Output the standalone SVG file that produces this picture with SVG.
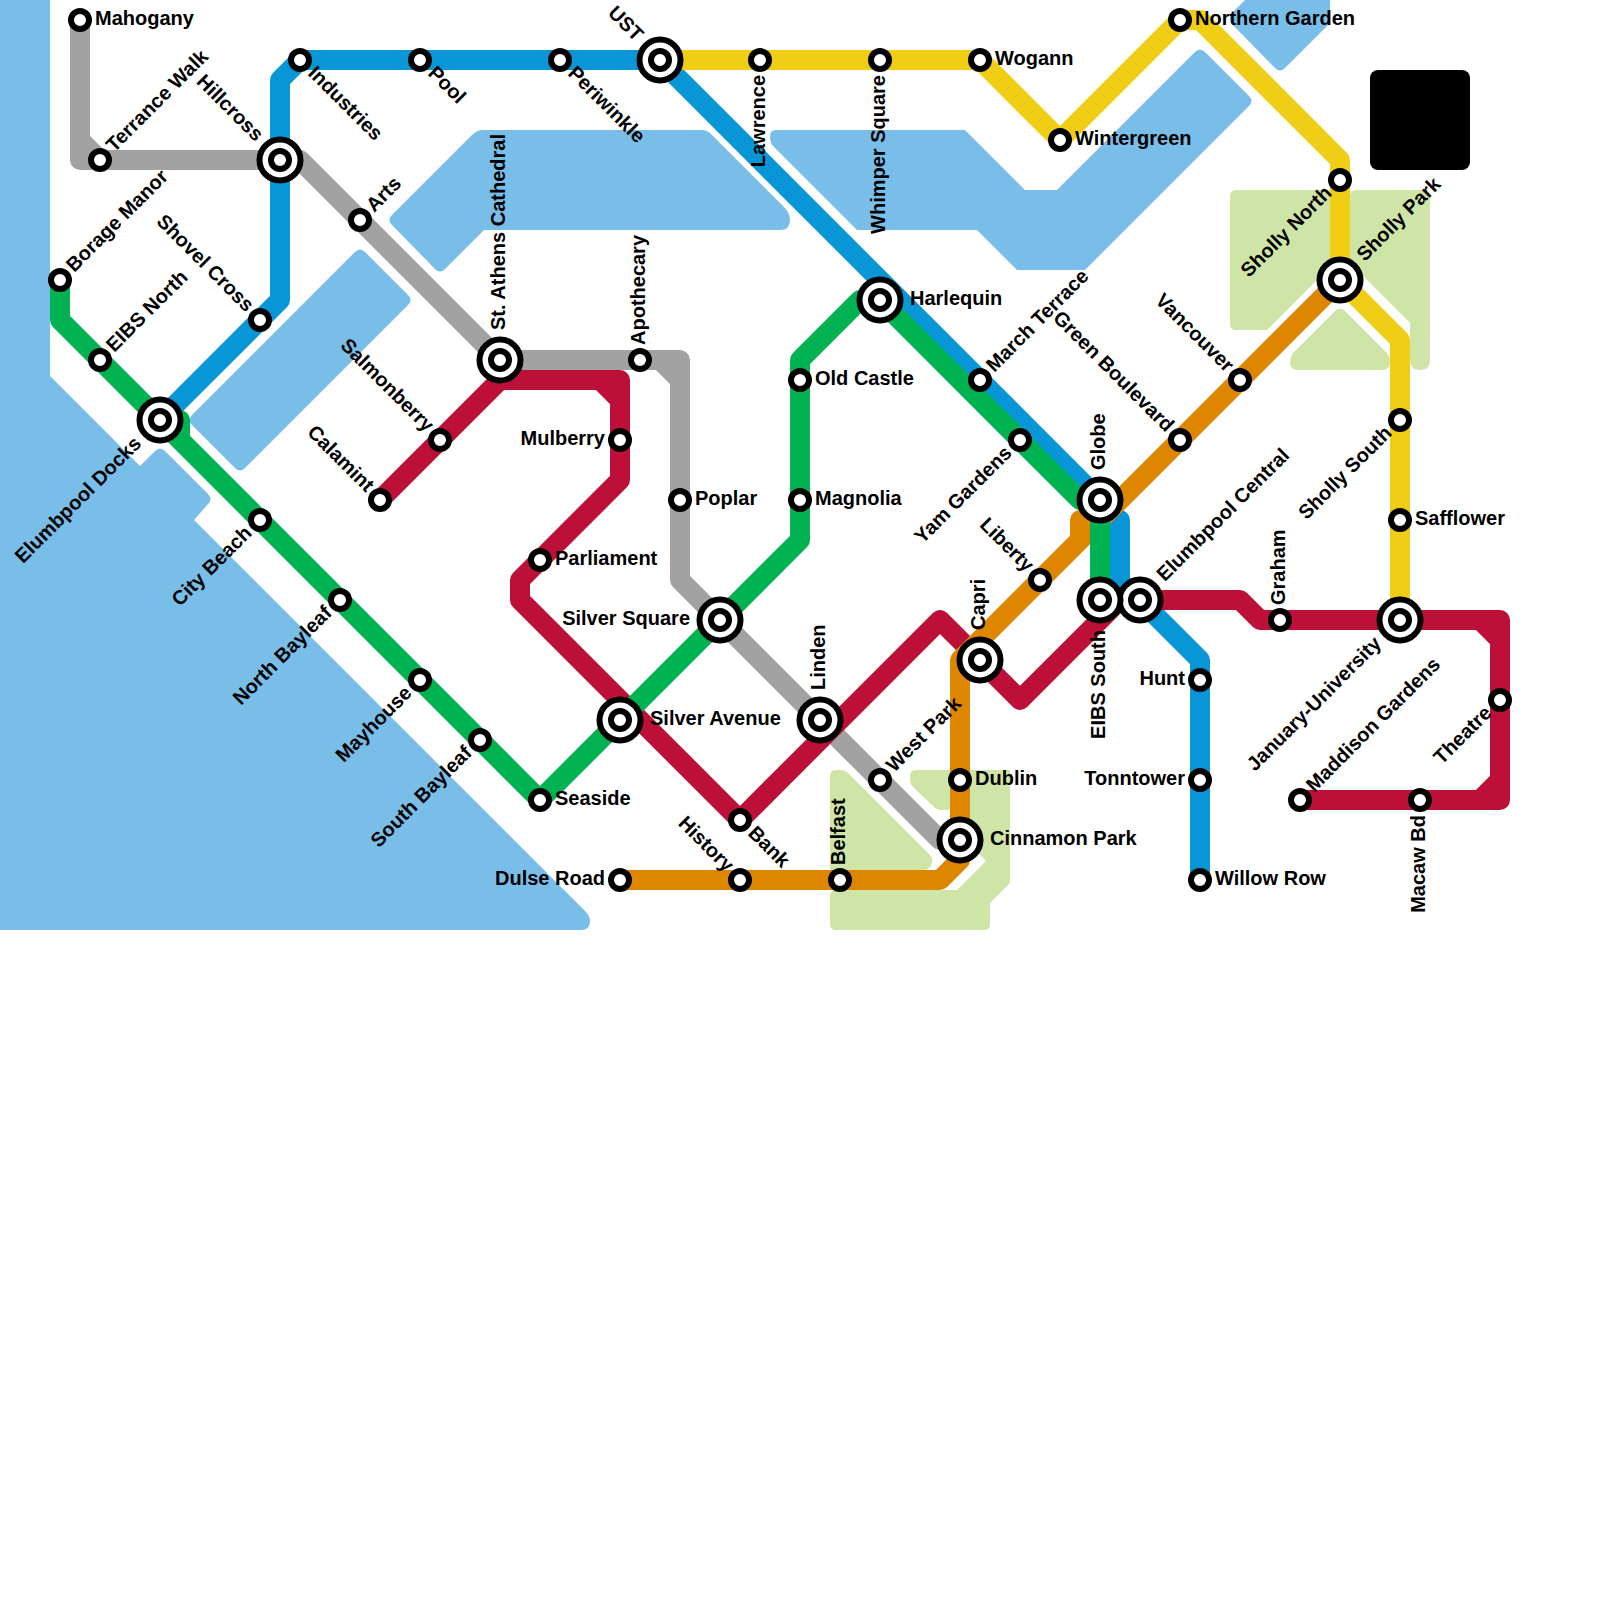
<svg xmlns="http://www.w3.org/2000/svg" width="1600" height="1600" viewBox="0 0 1600 1600">
<style>
.w{fill:#79bde9}.p{fill:#cfe4a7}
.l{fill:none;stroke-width:20;stroke-linejoin:round}
text{font-family:"Liberation Sans",Arial,sans-serif;font-size:20px;font-weight:bold;fill:#000}
.e{text-anchor:end}
.s{fill:#fff;stroke:#000;stroke-width:6}
</style>
<defs>
<g id="st"><circle class="s" r="9"/></g>
<g id="ic"><circle class="s" r="20.5"/><circle class="s" r="9"/></g>
</defs>
<rect width="1600" height="1600" fill="#fff"/>
<g id="water">
<path class="w" d="M0 0H50V376L140 466L155 451Q160 446 165 451L208 494Q213 499 208 504L194 520L585 911Q590 916 590 921Q590 930 581 930H0Z"/>
<path class="w" d="M192 415L355 252Q360 247 365 252L408 295Q413 300 408 305L245 468Q240 473 235 468L192 425Q187 420 192 415Z"/>
<path class="w" d="M392 215L472 135Q477 130 483 130H702Q707 130 711 134L784 207Q790 213 790 220Q790 230 780 230H484L445 269Q440 274 435 269L392 225Q387 220 392 215Z"/>
<path class="w" d="M770 136Q770 130 776 130H965L1025 190H1057L1195 52Q1200 47 1205 52L1249 96Q1254 101 1249 106L1085 270H1017L977 230H857L773 146Q770 143 770 136Z"/>
<path class="w" d="M1245 0L1230 15V22L1275 68Q1280 73 1285 68L1330 23V0Z"/>
</g>
<g id="parks">
<path class="p" d="M1230 196Q1230 190 1236 190H1340V257L1267 330H1236Q1230 330 1230 324Z"/>
<path class="p" d="M1350 196Q1350 190 1356 190H1424Q1430 190 1430 196V360Q1430 370 1420 370Q1410 370 1410 360V323L1350 263Z"/>
<path class="p" d="M1335 311Q1340 306 1345 311L1387 353Q1390 356 1390 362Q1390 370 1382 370H1298Q1290 370 1290 362Q1290 358 1293 353Z"/>
<path class="p" d="M830 776Q830 770 836 770H840Q845 770 849 774L929 854Q933 858 932 862Q930 870 924 870H830Z"/>
<path class="p" d="M910 776Q910 770 916 770H952V804Q952 810 946 810H940Q937 810 933 806L913 787Q910 784 910 780Z"/>
<path class="p" d="M960 770H1010V883L990 903V924Q990 930 984 930H836Q830 930 830 924V896Q830 890 836 890H957L986 861L960 835Z"/>
</g>
<rect id="block" x="1370" y="70" width="100" height="100" rx="8" fill="#000"/>
<g id="connectors">
<path class="l" stroke="#a2a2a2" d="M80 20V160H300L500 360H680V580L940 840H960M80 140L100 160M660 360L680 380"/>
<path class="l" stroke="#0896d7" d="M300 60L280 80V300L160 420M300 60H660L1100 500M1100 520H1120V600H1140L1200 660V880"/>
<path class="l" stroke="#bd1038" d="M380 500L500 380H620V480L520 580V600L740 820L940 620L1020 700L1120 600H1240L1260 620H1500V800H1300M600 380L620 400M1480 620L1500 640M1500 780L1480 800"/>
<path class="l" stroke="#df8600" d="M620 880H940L960 860V660L1340 280M1100 520H1080V540"/>
<path class="l" stroke="#00b251" d="M60 280V320L540 800L800 540V360L860 300H880L1080 500H1100V600M160 420H180V440"/>
<path class="l" stroke="#f0ce15" d="M660 60H980L1060 140L1180 20H1200L1340 160V280L1400 340V620"/>
</g>
<g id="mahogany"><use href="#st" x="80" y="20"/><text x="95" y="25">Mahogany</text></g>
<g id="terrance-walk"><use href="#st" x="100" y="160"/><text x="115" y="165" transform="rotate(-45 100 160)">Terrance Walk</text></g>
<g id="hillcross"><use href="#ic" x="280" y="160"/><text class="e" x="250" y="165" transform="rotate(45 280 160)">Hillcross</text></g>
<g id="industries"><use href="#st" x="300" y="60"/><text x="315" y="65" transform="rotate(45 300 60)">Industries</text></g>
<g id="pool"><use href="#st" x="420" y="60"/><text x="435" y="65" transform="rotate(45 420 60)">Pool</text></g>
<g id="periwinkle"><use href="#st" x="560" y="60"/><text x="575" y="65" transform="rotate(45 560 60)">Periwinkle</text></g>
<g id="ust"><use href="#ic" x="660" y="60"/><text class="e" x="630" y="65" transform="rotate(45 660 60)">UST</text></g>
<g id="lawrence"><use href="#st" x="760" y="60"/><text class="e" x="745" y="65" transform="rotate(-90 760 60)">Lawrence</text></g>
<g id="whimper-square"><use href="#st" x="880" y="60"/><text class="e" x="865" y="65" transform="rotate(-90 880 60)">Whimper Square</text></g>
<g id="wogann"><use href="#st" x="980" y="60"/><text x="995" y="65">Wogann</text></g>
<g id="wintergreen"><use href="#st" x="1060" y="140"/><text x="1075" y="145">Wintergreen</text></g>
<g id="northern-garden"><use href="#st" x="1180" y="20"/><text x="1195" y="25">Northern Garden</text></g>
<g id="sholly-north"><use href="#st" x="1340" y="180"/><text class="e" x="1325" y="185" transform="rotate(-45 1340 180)">Sholly North</text></g>
<g id="sholly-park"><use href="#ic" x="1340" y="280"/><text x="1370" y="285" transform="rotate(-45 1340 280)">Sholly Park</text></g>
<g id="vancouver"><use href="#st" x="1240" y="380"/><text class="e" x="1225" y="385" transform="rotate(45 1240 380)">Vancouver</text></g>
<g id="green-boulevard"><use href="#st" x="1180" y="440"/><text class="e" x="1165" y="445" transform="rotate(45 1180 440)">Green Boulevard</text></g>
<g id="globe"><use href="#ic" x="1100" y="500"/><text x="1130" y="505" transform="rotate(-90 1100 500)">Globe</text></g>
<g id="elumbpool-central"><use href="#ic" x="1140" y="600"/><text x="1170" y="605" transform="rotate(-45 1140 600)">Elumbpool Central</text></g>
<g id="eibs-south"><use href="#ic" x="1100" y="600"/><text class="e" x="1070" y="605" transform="rotate(-90 1100 600)">EIBS South</text></g>
<g id="liberty"><use href="#st" x="1040" y="580"/><text class="e" x="1025" y="585" transform="rotate(45 1040 580)">Liberty</text></g>
<g id="capri"><use href="#ic" x="980" y="660"/><text x="1010" y="665" transform="rotate(-90 980 660)">Capri</text></g>
<g id="linden"><use href="#ic" x="820" y="720"/><text x="850" y="725" transform="rotate(-90 820 720)">Linden</text></g>
<g id="west-park"><use href="#st" x="880" y="780"/><text x="895" y="785" transform="rotate(-45 880 780)">West Park</text></g>
<g id="dublin"><use href="#st" x="960" y="780"/><text x="975" y="785">Dublin</text></g>
<g id="cinnamon-park"><use href="#ic" x="960" y="840"/><text x="990" y="845">Cinnamon Park</text></g>
<g id="belfast"><use href="#st" x="840" y="880"/><text x="855" y="885" transform="rotate(-90 840 880)">Belfast</text></g>
<g id="dulse-road"><use href="#st" x="620" y="880"/><text class="e" x="605" y="885">Dulse Road</text></g>
<g id="history"><use href="#st" x="740" y="880"/><text class="e" x="725" y="885" transform="rotate(45 740 880)">History</text></g>
<g id="bank"><use href="#st" x="740" y="820"/><text x="755" y="825" transform="rotate(45 740 820)">Bank</text></g>
<g id="seaside"><use href="#st" x="540" y="800"/><text x="555" y="805">Seaside</text></g>
<g id="south-bayleaf"><use href="#st" x="480" y="740"/><text class="e" x="465" y="745" transform="rotate(-45 480 740)">South Bayleaf</text></g>
<g id="mayhouse"><use href="#st" x="420" y="680"/><text class="e" x="405" y="685" transform="rotate(-45 420 680)">Mayhouse</text></g>
<g id="north-bayleaf"><use href="#st" x="340" y="600"/><text class="e" x="325" y="605" transform="rotate(-45 340 600)">North Bayleaf</text></g>
<g id="city-beach"><use href="#st" x="260" y="520"/><text class="e" x="245" y="525" transform="rotate(-45 260 520)">City Beach</text></g>
<g id="elumbpool-docks"><use href="#ic" x="160" y="420"/><text class="e" x="130" y="425" transform="rotate(-45 160 420)">Elumbpool Docks</text></g>
<g id="eibs-north"><use href="#st" x="100" y="360"/><text x="115" y="365" transform="rotate(-45 100 360)">EIBS North</text></g>
<g id="borage-manor"><use href="#st" x="60" y="280"/><text x="75" y="285" transform="rotate(-45 60 280)">Borage Manor</text></g>
<g id="shovel-cross"><use href="#st" x="260" y="320"/><text class="e" x="245" y="325" transform="rotate(45 260 320)">Shovel Cross</text></g>
<g id="arts"><use href="#st" x="360" y="220"/><text x="375" y="225" transform="rotate(-45 360 220)">Arts</text></g>
<g id="st-athens-cathedral"><use href="#ic" x="500" y="360"/><text x="530" y="365" transform="rotate(-90 500 360)">St. Athens Cathedral</text></g>
<g id="salmonberry"><use href="#st" x="440" y="440"/><text class="e" x="425" y="445" transform="rotate(45 440 440)">Salmonberry</text></g>
<g id="calamint"><use href="#st" x="380" y="500"/><text class="e" x="365" y="505" transform="rotate(45 380 500)">Calamint</text></g>
<g id="mulberry"><use href="#st" x="620" y="440"/><text class="e" x="605" y="445">Mulberry</text></g>
<g id="apothecary"><use href="#st" x="640" y="360"/><text x="655" y="365" transform="rotate(-90 640 360)">Apothecary</text></g>
<g id="poplar"><use href="#st" x="680" y="500"/><text x="695" y="505">Poplar</text></g>
<g id="parliament"><use href="#st" x="540" y="560"/><text x="555" y="565">Parliament</text></g>
<g id="silver-square"><use href="#ic" x="720" y="620"/><text class="e" x="690" y="625">Silver Square</text></g>
<g id="silver-avenue"><use href="#ic" x="620" y="720"/><text x="650" y="725">Silver Avenue</text></g>
<g id="old-castle"><use href="#st" x="800" y="380"/><text x="815" y="385">Old Castle</text></g>
<g id="magnolia"><use href="#st" x="800" y="500"/><text x="815" y="505">Magnolia</text></g>
<g id="harlequin"><use href="#ic" x="880" y="300"/><text x="910" y="305">Harlequin</text></g>
<g id="march-terrace"><use href="#st" x="980" y="380"/><text x="995" y="385" transform="rotate(-45 980 380)">March Terrace</text></g>
<g id="yam-gardens"><use href="#st" x="1020" y="440"/><text class="e" x="1005" y="445" transform="rotate(-45 1020 440)">Yam Gardens</text></g>
<g id="sholly-south"><use href="#st" x="1400" y="420"/><text class="e" x="1385" y="425" transform="rotate(-45 1400 420)">Sholly South</text></g>
<g id="safflower"><use href="#st" x="1400" y="520"/><text x="1415" y="525">Safflower</text></g>
<g id="january-university"><use href="#ic" x="1400" y="620"/><text class="e" x="1370" y="625" transform="rotate(-45 1400 620)">January-University</text></g>
<g id="graham"><use href="#st" x="1280" y="620"/><text x="1295" y="625" transform="rotate(-90 1280 620)">Graham</text></g>
<g id="hunt"><use href="#st" x="1200" y="680"/><text class="e" x="1185" y="685">Hunt</text></g>
<g id="tonntower"><use href="#st" x="1200" y="780"/><text class="e" x="1185" y="785">Tonntower</text></g>
<g id="willow-row"><use href="#st" x="1200" y="880"/><text x="1215" y="885">Willow Row</text></g>
<g id="theatre"><use href="#st" x="1500" y="700"/><text class="e" x="1485" y="705" transform="rotate(-45 1500 700)">Theatre</text></g>
<g id="macaw-bd"><use href="#st" x="1420" y="800"/><text class="e" x="1405" y="805" transform="rotate(-90 1420 800)">Macaw Bd</text></g>
<g id="maddison-gardens"><use href="#st" x="1300" y="800"/><text x="1315" y="805" transform="rotate(-45 1300 800)">Maddison Gardens</text></g>
</svg>
